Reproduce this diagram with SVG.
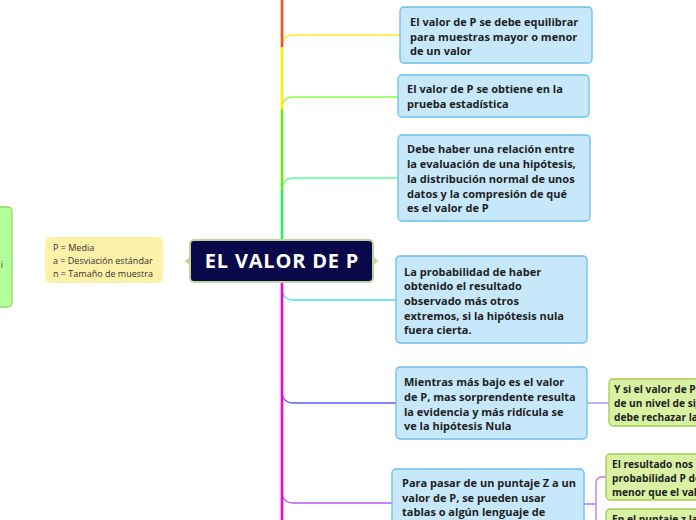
<svg xmlns="http://www.w3.org/2000/svg" width="696" height="520" viewBox="0 0 696 520">
<style>
.bn{fill:#c6e8fa;stroke:#6cbfe9;stroke-width:1.3}
.gn{fill:#d9f1a3;stroke:#a2cd52;stroke-width:1.3}
.t{font-family:"Open Sans","Noto Sans",sans-serif;font-weight:700;font-size:11px;fill:#1e1e1e}
.tg{font-family:"Open Sans","Noto Sans",sans-serif;font-weight:700;font-size:10.2px;fill:#1e1e1e}
.ts{font-family:"Open Sans","Noto Sans",sans-serif;font-size:9px;fill:#333}
.c{fill:none;stroke-width:1.3}
.tr{fill:none;stroke-width:2.6}
</style>
<g id="connectors">
<path class="c" stroke="#ffee22" d="M282,47 Q282,35 294,35 H400"/>
<path class="c" stroke="#88ff44" d="M282,109 Q282,97 294,97 H398"/>
<path class="c" stroke="#55ff99" d="M282,190 Q282,178 294,178 H398"/>
<path class="c" stroke="#44ddff" d="M282,288 Q282,300 294,300 H396"/>
<path class="c" stroke="#5b5bff" d="M282,391 Q282,403 294,403 H396"/>
<path class="c" stroke="#8888ff" d="M587,403 H609"/>
<path class="c" stroke="#bb55ff" d="M282,491 Q282,503 294,503 H392"/>
<path class="c" stroke="#c070ff" d="M584,504 H596 M596,520 V483 Q596,477 602,477 H606"/>
<path class="tr" stroke="#ff4a1a" d="M282,0 V47"/>
<path class="tr" stroke="#ffee00" d="M282,47 V109"/>
<path class="tr" stroke="#66ee11" d="M282,109 V190"/>
<path class="tr" stroke="#22ee66" d="M282,190 V241"/>
<path class="tr" stroke="#ff00cc" d="M282,281 V520"/>
</g>
<g id="left-node">
<rect x="-10" y="207" width="22" height="100" rx="4" fill="#b3ff99" stroke="#9ad66a" stroke-width="1.3"/>
<text class="ts" x="3" y="268" text-anchor="end">i</text>
</g>
<g id="legend">
<rect x="45" y="237" width="118" height="46" rx="5" fill="#fcf1a8"/>
<text class="ts" x="53" y="251">P = Media</text>
<text class="ts" x="53" y="264">a = Desviación estándar</text>
<text class="ts" x="53" y="277">n = Tamaño de muestra</text>
</g>
<g id="center">
<path d="M190,252 Q190,259 184,261 Q190,263 190,270 Z" fill="#c5d49a"/>
<path d="M373,252 Q373,259 379,261 Q373,263 373,270 Z" fill="#c5d49a"/>
<rect x="190" y="240" width="183" height="42" rx="4" fill="#08084a" stroke="#c5d49a" stroke-width="2"/>
<text x="282" y="268" text-anchor="middle" font-family="'Open Sans','Noto Sans',sans-serif" font-weight="700" font-size="20" letter-spacing="0.8" fill="#ffffff">EL VALOR DE P</text>
</g>
<g id="n1">
<rect class="bn" x="400" y="7" width="192" height="56" rx="4"/>
<text class="t" x="410" y="26">El valor de P se debe equilibrar</text>
<text class="t" x="410" y="41">para muestras mayor o menor</text>
<text class="t" x="410" y="55">de un valor</text>
</g>
<g id="n2">
<rect class="bn" x="398" y="75" width="191" height="42" rx="4"/>
<text class="t" x="407" y="93">El valor de P se obtiene en la</text>
<text class="t" x="407" y="108">prueba estadística</text>
</g>
<g id="n3">
<rect class="bn" x="398" y="135" width="192" height="86" rx="4"/>
<text class="t" x="407" y="153">Debe haber una relación entre</text>
<text class="t" x="407" y="168">la evaluación de una hipótesis,</text>
<text class="t" x="407" y="183">la distribución normal de unos</text>
<text class="t" x="407" y="198">datos y la compresión de qué</text>
<text class="t" x="407" y="212">es el valor de P</text>
</g>
<g id="n4">
<rect class="bn" x="396" y="256" width="191" height="87" rx="4"/>
<text class="t" x="404" y="276">La probabilidad de haber</text>
<text class="t" x="404" y="290">obtenido el resultado</text>
<text class="t" x="404" y="305">observado más otros</text>
<text class="t" x="404" y="320">extremos, si la hipótesis nula</text>
<text class="t" x="404" y="334">fuera cierta.</text>
</g>
<g id="n5">
<rect class="bn" x="396" y="367" width="191" height="72" rx="4"/>
<text class="t" x="404" y="386">Mientras más bajo es el valor</text>
<text class="t" x="404" y="401">de P, mas sorprendente resulta</text>
<text class="t" x="404" y="416">la evidencia y más ridícula se</text>
<text class="t" x="404" y="430">ve la hipótesis Nula</text>
</g>
<g id="n6">
<rect class="bn" x="392" y="469" width="192" height="70" rx="4"/>
<text class="t" x="402" y="487">Para pasar de un puntaje Z a un</text>
<text class="t" x="402" y="502">valor de P, se pueden usar</text>
<text class="t" x="402" y="516">tablas o algún lenguaje de</text>
</g>
<g id="n7">
<rect class="gn" x="609" y="379" width="100" height="47" rx="4"/>
<text class="tg" x="614" y="393">Y si el valor de P</text>
<text class="tg" x="614" y="407">de un nivel de sig</text>
<text class="tg" x="614" y="421">debe rechazar la</text>
</g>
<g id="n8">
<rect class="gn" x="606" y="454" width="100" height="46" rx="4"/>
<text class="tg" x="612" y="468">El resultado nos r</text>
<text class="tg" x="612" y="482">probabilidad P de</text>
<text class="tg" x="612" y="496">menor que el valo</text>
</g>
<g id="n9">
<rect class="gn" x="606" y="509" width="100" height="40" rx="4"/>
<text class="tg" x="612" y="523">En el puntaje z la</text>
</g>
</svg>
